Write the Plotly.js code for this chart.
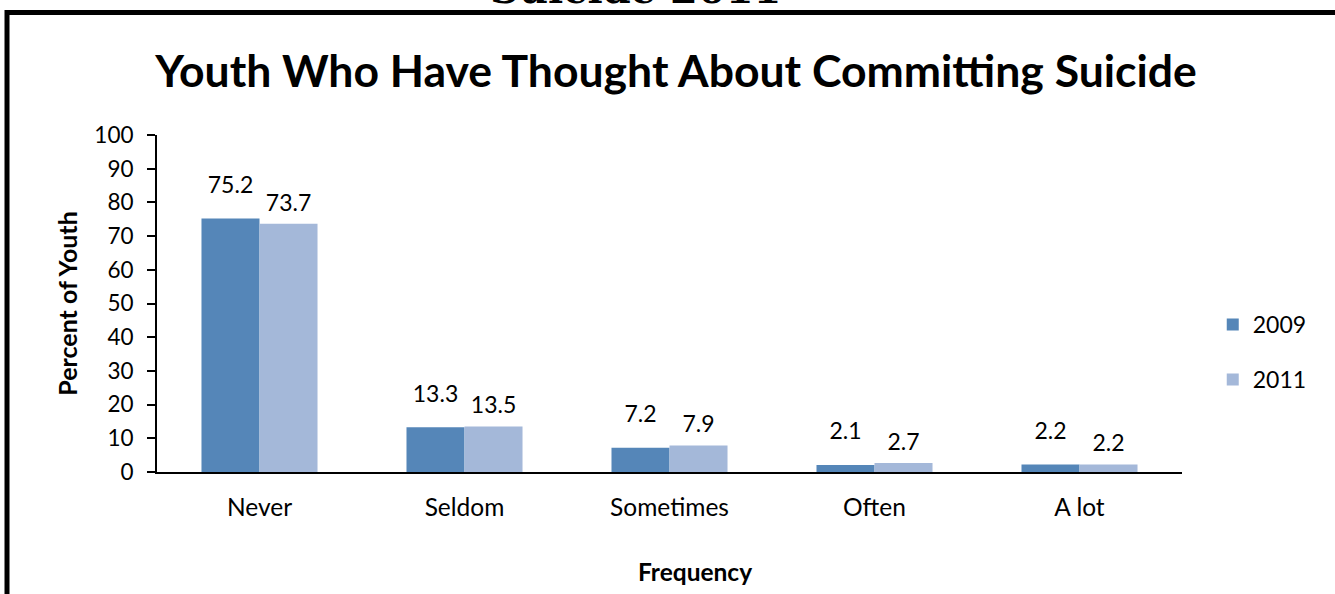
<!DOCTYPE html>
<html>
<head>
<meta charset="utf-8">
<script src="https://cdn.plot.ly/plotly-3.0.1.min.js"></script>
<style>
html,body{margin:0;padding:0;background:#fff;}
#chart{width:1335px;height:594px;}
</style>
</head>
<body>
<div id="chart"></div>
<script>
const categories = ["Never", "Seldom", "Sometimes", "Often", "A lot"];
const values2009 = [75.2, 13.3, 7.2, 2.1, 2.2];
const values2011 = [73.7, 13.5, 7.9, 2.7, 2.2];
const seriesNames = ["2009", "2011"];
const yTicks = [0, 10, 20, 30, 40, 50, 60, 70, 80, 90, 100];

const FONT = "Lato, 'Open Sans', sans-serif";
// number drawn at 23px inside a span; the (small) outer size sets the spacer line height
const labelTpl = '<span style="font-size:23px">%{y:.1f}</span><br> ';

const traces = [
  {type: "bar", name: seriesNames[0], x: categories, y: values2009,
   marker: {color: "#5586B8"}, legendgroup: "a",
   texttemplate: labelTpl, textposition: "outside", cliponaxis: false, constraintext: "none",
   textfont: {size: 15, color: "#000", family: FONT}, hoverinfo: "skip"},
  {type: "bar", name: seriesNames[1], x: categories, y: values2011,
   marker: {color: "#A4B8D9"}, legendgroup: "b",
   texttemplate: labelTpl, textposition: "outside", cliponaxis: false, constraintext: "none",
   textfont: {size: 7, color: "#000", family: FONT}, hoverinfo: "skip"}
];

const layout = {
  width: 1335, height: 594,
  margin: {l: 157, r: 153, t: 135, b: 122},
  paper_bgcolor: "#fff", plot_bgcolor: "#fff",
  font: {family: FONT, color: "#000", size: 22},
  barmode: "group", bargap: 0.434, bargroupgap: 0,
  title: {text: "<b>Youth Who Have Thought About Committing Suicide</b>",
          font: {size: 44.5, family: FONT, color: "#000"},
          x: 0.5064, xanchor: "center", y: 0.879, yanchor: "middle"},
  xaxis: {
    type: "category", showgrid: false, zeroline: false,
    showline: true, linecolor: "#000", linewidth: 2,
    ticks: "", ticklabelstandoff: 13,
    tickfont: {size: 24.5, family: FONT, color: "#000"},
    fixedrange: true
  },
  yaxis: {
    range: [0, 100], tickvals: yTicks, showgrid: false, zeroline: false,
    showline: true, linecolor: "#000", linewidth: 2,
    ticks: "outside", ticklen: 8, tickwidth: 2, tickcolor: "#000",
    ticklabelstandoff: 9,
    tickfont: {size: 22.5, family: FONT, color: "#000"},
    title: {text: "<b>Percent of Youth</b>", font: {size: 25, family: FONT, color: "#000"}, standoff: 10},
    fixedrange: true
  },
  showlegend: true,
  legend: {x: 1.030, xanchor: "left", y: 0.356, yanchor: "middle",
           font: {size: 23, family: FONT, color: "#000"},
           traceorder: "grouped", tracegroupgap: 22,
           bgcolor: "rgba(0,0,0,0)", itemwidth: 30},
  annotations: [
    {text: "<b>Frequency</b>", xref: "paper", yref: "paper",
     x: (695 - 157) / 1025, y: (472 - 571) / 337, xanchor: "center", yanchor: "middle",
     showarrow: false, font: {size: 24.5, family: FONT, color: "#000"}},
    {text: "<b>Suicide 2011</b>", xref: "paper", yref: "paper",
     x: (635 - 157) / 1025, y: (472 - 14) / 337, xanchor: "center", yanchor: "bottom",
     showarrow: false, font: {size: 40, family: "'DejaVu Serif', serif", color: "#000"}}
  ],
  shapes: [
    {type: "rect", xref: "paper", yref: "paper",
     x0: (7 - 157) / 1025, x1: (1400 - 157) / 1025,
     y0: (472 - 650) / 337, y1: (472 - 12.5) / 337,
     line: {color: "#000", width: 5}, fillcolor: "rgba(0,0,0,0)", layer: "below"}
  ]
};

Plotly.newPlot("chart", traces, layout, {displayModeBar: false, staticPlot: true});
</script>
</body>
</html>
